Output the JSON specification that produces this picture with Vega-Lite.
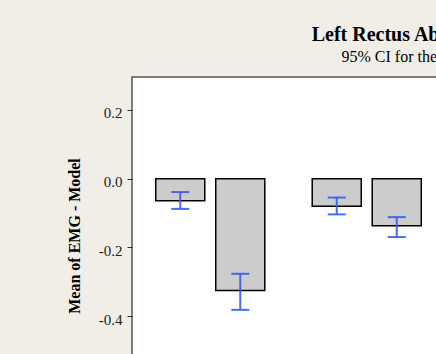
{
  "$schema": "https://vega.github.io/schema/vega-lite/v6.json",
  "width": 555,
  "height": 317,
  "autosize": {"type": "none"},
  "padding": {"left": 132, "top": 77, "right": 0, "bottom": 0},
  "background": "#F1EEE8",
  "title": {
    "text": "Left Rectus Abdominis",
    "subtitle": "95% CI for the Mean",
    "anchor": "middle",
    "frame": "group",
    "font": "Liberation Serif",
    "fontSize": 20,
    "fontWeight": "bold",
    "color": "#000000",
    "subtitleFont": "Liberation Serif",
    "subtitleFontSize": 16,
    "subtitleColor": "#000000",
    "subtitlePadding": 4,
    "offset": 12
  },
  "data": {
    "values": [
      {"group": "1", "side": "A", "mean": -0.064, "lo": -0.088, "hi": -0.039},
      {"group": "1", "side": "B", "mean": -0.326, "lo": -0.382, "hi": -0.277},
      {"group": "2", "side": "A", "mean": -0.080, "lo": -0.104, "hi": -0.055},
      {"group": "2", "side": "B", "mean": -0.137, "lo": -0.170, "hi": -0.112}
    ]
  },
  "encoding": {
    "x": {
      "field": "group",
      "type": "nominal",
      "scale": {"range": [0, 313], "paddingInner": 0.233, "paddingOuter": 0.1165},
      "axis": null
    },
    "xOffset": {
      "field": "side",
      "type": "nominal",
      "scale": {"paddingInner": 0.183, "paddingOuter": 0.0915}
    }
  },
  "layer": [
    {
      "mark": {"type": "bar", "fill": "#CCCCCC", "stroke": "#000000", "strokeWidth": 1.5},
      "encoding": {
        "y": {
          "field": "mean",
          "type": "quantitative",
          "title": "Mean of EMG - Model",
          "scale": {"domain": [-0.627, 0.296], "nice": false, "zero": false},
          "axis": {
            "values": [0.2, 0, -0.2, -0.4],
            "format": ".1f",
            "labelExpr": "replace(datum.label, '−', '-')",
            "labelFont": "Liberation Serif",
            "labelFontSize": 15,
            "labelColor": "#222222",
            "labelPadding": 5,
            "labelOffset": 3,
            "tickSize": 5,
            "tickColor": "#333333",
            "domain": false,
            "grid": false,
            "titleFont": "Liberation Serif",
            "titleFontSize": 16,
            "titleFontWeight": "bold",
            "titleColor": "#000000",
            "titlePadding": 16
          }
        }
      }
    },
    {
      "mark": {"type": "rule", "color": "#3A5BF0", "strokeWidth": 2, "opacity": 0.9},
      "encoding": {
        "y": {"field": "lo", "type": "quantitative", "title": "Mean of EMG - Model"},
        "y2": {"field": "hi"}
      }
    },
    {
      "mark": {"type": "tick", "color": "#3A5BF0", "thickness": 2, "size": 18, "orient": "horizontal", "opacity": 0.9},
      "encoding": {
        "y": {"field": "lo", "type": "quantitative", "title": "Mean of EMG - Model"}
      }
    },
    {
      "mark": {"type": "tick", "color": "#3A5BF0", "thickness": 2, "size": 18, "orient": "horizontal", "opacity": 0.9},
      "encoding": {
        "y": {"field": "hi", "type": "quantitative", "title": "Mean of EMG - Model"}
      }
    }
  ],
  "config": {
    "view": {"fill": "#FFFFFF", "stroke": "#555555", "strokeWidth": 1.5}
  }
}
